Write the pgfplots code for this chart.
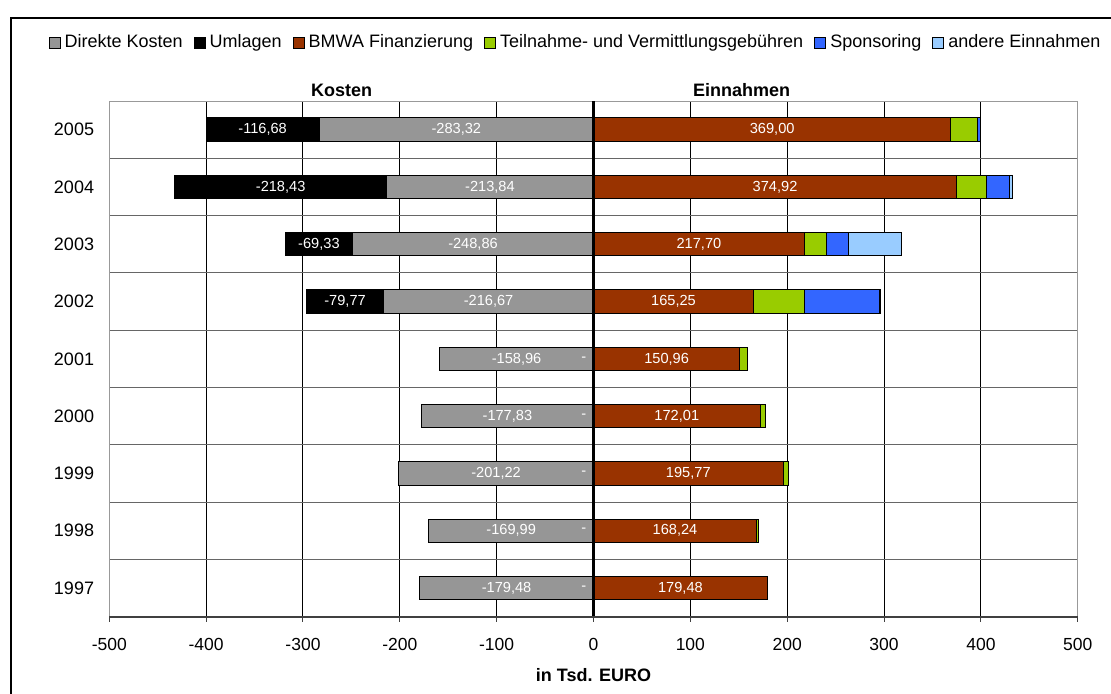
\documentclass[border=0pt]{standalone}
\usepackage{fontspec}
\setmainfont{Liberation Sans}
\usepackage{pgfplots}
\usepackage{pgfplotstable}
\pgfplotsset{compat=1.18}

\definecolor{dk}{RGB}{150,150,150}
\definecolor{bmwa}{RGB}{153,51,0}
\definecolor{tg}{RGB}{153,204,0}
\definecolor{sp}{RGB}{51,102,255}
\definecolor{ae}{RGB}{153,204,255}

% Kosten (negativ) und Einnahmen in Tsd. EURO
\pgfplotstableread{
year D       U       B      T     S     A
2005 -283.32 -116.68 369.00 28.00 3.00  0
2004 -213.84 -218.43 374.92 30.40 24.60 2.35
2003 -248.86 -69.33  217.70 22.40 23.00 55.09
2002 -216.67 -79.77  165.25 53.00 77.20 0.99
2001 -158.96 0       150.96 8.00  0     0
2000 -177.83 0       172.01 5.82  0     0
1999 -201.22 0       195.77 5.45  0     0
1998 -169.99 0       168.24 1.75  0     0
1997 -179.48 0       179.48 0     0     0
}\data

\begin{document}
\begin{tikzpicture}
\useasboundingbox (-54.65pt,-38.15pt) rectangle (500.85pt,308.35pt);
\draw[line width=1pt] (-49.15pt,-60pt) -- (-49.15pt,299.35pt) -- (600pt,299.35pt);
\begin{axis}[
  width=484.2pt, height=257.85pt, scale only axis, clip=false,
  xbar, bar width=11.7pt,
  every axis plot post/.append style={bar shift=0pt},
  xmin=-500, xmax=500, ymin=1996.5, ymax=2005.5,
  xtick={-500,-400,...,500}, ytick={1997,...,2005},
  minor ytick={1997.5,1998.5,...,2004.5},
  xmajorgrids, yminorgrids,
  major grid style={black, line width=0.5pt},
  minor grid style={black!60, line width=0.5pt},
  axis line style={black!40, line width=0.5pt},
  xtick pos=left, ytick pos=left,
  tick align=outside, major tick length=2.5pt, minor tick length=0pt,
  xtick style={black!75, line width=0.5pt}, ytick style={draw=none},
  /pgf/number format/assume math mode=true,
  /pgf/number format/use comma,
  /pgf/number format/1000 sep={},
  xticklabel style={font=\fontsize{8.75}{10}\selectfont, yshift=-5pt},
  yticklabel style={font=\fontsize{9}{10}\selectfont, xshift=-1.6pt},
  xlabel={in Tsd. EURO},
  xlabel style={font=\bfseries\fontsize{9}{10}\selectfont,
    at={(axis description cs:0.5,0)}, anchor=center, yshift=-29.15pt},
  legend style={at={(0.4825,1.113)}, anchor=center, draw=none, fill=none,
    legend columns=-1, font=\fontsize{9}{10}\selectfont,
    /tikz/every even column/.append style={column sep=3.5pt}},
  legend image code/.code={\draw[#1, draw=black, line width=0.5pt] (0pt,-2.75pt) rectangle (5.5pt,2.75pt);},
  lbl/.style={draw=none, fill=none, forget plot, nodes near coords,
    nodes near coords style={font=\fontsize{7.3}{8}\selectfont, text=white, anchor=center},
    /pgf/number format/fixed, /pgf/number format/fixed zerofill,
    /pgf/number format/precision=2},
  bar/.style={draw=black, line width=0.5pt, forget plot},
]
% Kosten
\addplot[bar, fill=black] table[x expr=\thisrow{D}+\thisrow{U}, y=year] {\data};
\addplot[bar, fill=dk] table[x=D, y=year] {\data};
% Einnahmen
\addplot[bar, fill=ae] table[x expr=\thisrow{B}+\thisrow{T}+\thisrow{S}+\thisrow{A}, y=year] {\data};
\addplot[bar, fill=sp] table[x expr=\thisrow{B}+\thisrow{T}+\thisrow{S}, y=year] {\data};
\addplot[bar, fill=tg] table[x expr=\thisrow{B}+\thisrow{T}, y=year] {\data};
\addplot[bar, fill=bmwa] table[x=B, y=year] {\data};
% Beschriftungen
\addplot[lbl, point meta=explicit] table[x expr=\thisrow{D}/2, y=year, meta=D] {\data};
\addplot[lbl, point meta=explicit, restrict expr to domain={\thisrow{U}}{-1000:-1}]
  table[x expr=\thisrow{D}+\thisrow{U}/2, y=year, meta=U] {\data};
\addplot[lbl, point meta=explicit] table[x expr=\thisrow{B}/2, y=year, meta=B] {\data};
\addplot[lbl, nodes near coords={-}, restrict expr to domain={\thisrow{U}}{-0.5:0.5}]
  table[x expr=-10, y=year] {\data};
% Nulllinie
\addplot[sharp plot, black, line width=1.5pt, forget plot] coordinates {(0,1996.5) (0,2005.5)};
\draw[black!75, line width=1pt] (rel axis cs:0,0) -- (rel axis cs:1,0);

\node[font=\bfseries\fontsize{9}{10}\selectfont, yshift=5.5pt] at (axis cs:-260,2005.5) {Kosten};
\node[font=\bfseries\fontsize{9}{10}\selectfont, yshift=5.5pt] at (axis cs:153,2005.5) {Einnahmen};

\addlegendimage{fill=dk}\addlegendentry{Direkte Kosten}
\addlegendimage{fill=black}\addlegendentry{Umlagen}
\addlegendimage{fill=bmwa}\addlegendentry{BMWA Finanzierung}
\addlegendimage{fill=tg}\addlegendentry{Teilnahme- und Vermittlungsgebühren}
\addlegendimage{fill=sp}\addlegendentry{Sponsoring}
\addlegendimage{fill=ae}\addlegendentry{andere Einnahmen}
\end{axis}
\end{tikzpicture}
\end{document}
